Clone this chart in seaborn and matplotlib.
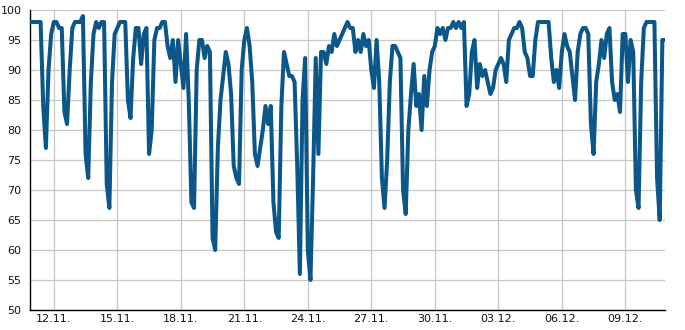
import numpy as np
import pandas as pd
import matplotlib
matplotlib.use("Agg")
import matplotlib.pyplot as plt
from matplotlib.ticker import MultipleLocator
import seaborn as sns

# 3-hourly readings from 10.11. 21:00 to 10.12. 21:00
start = "2023-11-10 21:00"
values = [
    98, 98, 98, 98, 98, 84, 77, 90, 96,
    98, 98, 97, 97, 83, 81, 90, 97,
    98, 98, 98, 99, 76, 72, 88, 96,
    98, 97, 98, 98, 71, 67, 88, 96,
    97, 98, 98, 98, 85, 82, 92, 97,
    97, 91, 96, 97, 76, 80, 95, 97,
    97, 98, 98, 94, 92, 95, 88, 95,
    91, 87, 96, 85, 68, 67, 90, 95,
    95, 92, 94, 93, 62, 60, 77, 85,
    89, 93, 91, 86, 74, 72, 71, 90,
    95, 97, 94, 88, 76, 74, 77, 80,
    84, 81, 84, 68, 63, 62, 84, 93,
    91, 89, 89, 88, 74, 56, 85, 92,
    60, 55, 72, 92, 76, 93, 93, 91,
    94, 93, 96, 94, 95, 96, 97, 98,
    97, 97, 93, 95, 93, 96, 94, 95,
    90, 87, 95, 88, 72, 67, 75, 88,
    94, 94, 93, 92, 70, 66, 80, 86,
    91, 84, 86, 80, 89, 84, 90, 93,
    94, 97, 96, 97, 95, 97, 97, 98,
    97, 98, 97, 98, 84, 86, 93, 95,
    87, 91, 89, 90, 88, 86, 87, 90,
    91, 92, 91, 88, 95, 96, 97, 97,
    98, 97, 93, 92, 89, 89, 95, 98,
    98, 98, 98, 98, 92, 88, 90, 87,
    93, 96, 94, 93, 89, 85, 93, 96,
    97, 97, 96, 81, 76, 88, 91, 95,
    92, 96, 97, 88, 85, 86, 83, 96,
    96, 88, 95, 93, 70, 67, 88, 97,
    98, 98, 98, 98, 72, 65, 95, 95,
]
tick_labels = ["12.11.", "15.11.", "18.11.", "21.11.", "24.11.",
               "27.11.", "30.11.", "03.12.", "06.12.", "09.12."]

times = pd.date_range(start, periods=len(values), freq="3h")
df = pd.DataFrame({"time": times, "value": values})

sns.set_style("white")
plt.rcParams["font.family"] = ["DejaVu Sans"]

fig = plt.figure(figsize=(6.85, 3.30), dpi=100)
ax = fig.add_axes([30 / 685, 1 - 310 / 330, 635 / 685, 300 / 330])

sns.lineplot(data=df, x="time", y="value", ax=ax, color="#0b5789",
             linewidth=2.9, zorder=3)

ax.set_xlim(times[0], times[-1])
ax.set_ylim(50, 100)
ax.yaxis.set_major_locator(MultipleLocator(5))
ax.yaxis.set_minor_locator(MultipleLocator(1))

tick_pos = pd.date_range("2023-11-12", periods=len(tick_labels), freq="3D")
ax.set_xticks(tick_pos)
ax.set_xticklabels(tick_labels)

ax.grid(True, which="major", color="#c8c8c8", linewidth=0.9, zorder=0)
ax.set_axisbelow(True)
for s in ["top", "right"]:
    ax.spines[s].set_visible(False)
for s in ["left", "bottom"]:
    ax.spines[s].set_color("black")
    ax.spines[s].set_linewidth(1.0)

ax.tick_params(axis="both", which="major", direction="in", length=5,
               width=0.9, labelsize=8, color="black", labelcolor="#111111")
ax.tick_params(axis="y", which="minor", direction="in", length=3,
               width=0.8, color="black")
ax.tick_params(axis="y", which="major", pad=6)
ax.tick_params(axis="x", which="major", pad=3)
ax.set_xlabel("")
ax.set_ylabel("")

fig.savefig("out.png", dpi=100)
